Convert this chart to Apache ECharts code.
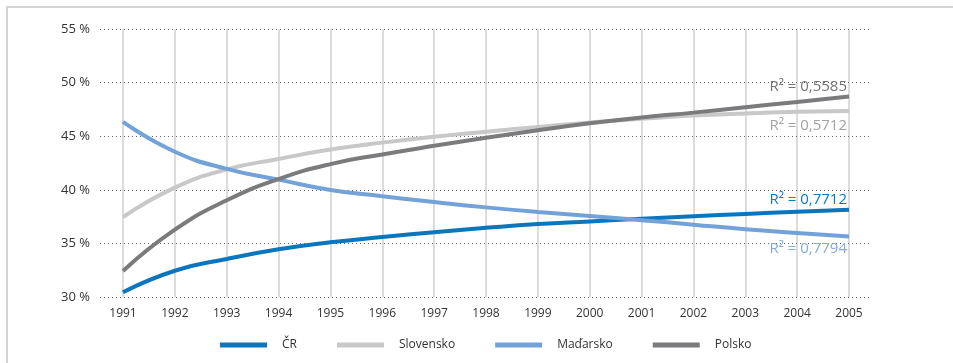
<!DOCTYPE html>
<html>
<head>
<meta charset="utf-8">
<script src="https://cdn.jsdelivr.net/npm/echarts@6/dist/echarts.min.js"></script>
<style>
html,body{margin:0;padding:0;background:#fff;}
#chart{width:953px;height:363px;}
</style>
</head>
<body>
<div id="chart"></div>
<script>
// ---- data ----
const years = ['1991','1992','1993','1994','1995','1996','1997','1998','1999','2000','2001','2002','2003','2004','2005'];
const yTicks = [30, 35, 40, 45, 50, 55];
const seriesNames = ['ČR', 'Slovensko', 'Maďarsko', 'Polsko'];
const cr        = [30.45, 32.45, 33.55, 34.45, 35.1, 35.6, 36.05, 36.45, 36.8, 37.05, 37.3, 37.53, 37.75, 37.96, 38.15];
const slovensko = [37.45, 40.2, 41.9, 42.88, 43.75, 44.4, 44.95, 45.42, 45.86, 46.28, 46.62, 46.92, 47.12, 47.27, 47.36];
const madarsko  = [46.33, 43.55, 41.95, 40.95, 39.98, 39.4, 38.86, 38.36, 37.93, 37.56, 37.17, 36.75, 36.33, 35.98, 35.65];
const polsko    = [32.43, 36.28, 39.02, 41.0, 42.4, 43.3, 44.1, 44.85, 45.55, 46.2, 46.75, 47.2, 47.7, 48.2, 48.7];
const r2Labels  = ['R² = 0,7712', 'R² = 0,5712', 'R² = 0,7794', 'R² = 0,5585'];

const lineColors  = ['#0a76bd', '#c8c8c8', '#72a2d8', '#7b7b7e'];
const labelColors = ['#0a7cc4', '#a3a3a3', '#80abdc', '#737376'];
const labelDy     = [-10, 15, 12, -9.5];
const allData = [cr, slovensko, madarsko, polsko];

const chart = echarts.init(document.getElementById('chart'), null, {renderer: 'canvas'});
const font = '"Open Sans", sans-serif';

const series = seriesNames.map((name, i) => ({
  name: name,
  type: 'line',
  xAxisIndex: 0,
  yAxisIndex: 0,
  data: allData[i],
  smooth: 0.5,
  showSymbol: false,
  symbol: 'none',
  z: 5,
  lineStyle: {color: lineColors[i], width: 4},
  itemStyle: {color: lineColors[i]},
  emphasis: {disabled: true},
  endLabel: {
    show: true,
    formatter: r2Labels[i],
    color: labelColors[i],
    fontFamily: font,
    fontSize: 15,
    align: 'right',
    verticalAlign: 'middle',
    distance: 0,
    offset: [-2, labelDy[i]]
  }
}));

chart.setOption({
  animation: false,
  backgroundColor: '#fff',
  graphic: [{
    type: 'rect',
    shape: {x: 7, y: 7, width: 1000, height: 400},
    style: {fill: 'none', stroke: '#d4d4d4', lineWidth: 2},
    z: -10
  }],
  grid: [
    {left: 123, right: 104, top: 29, bottom: 66},
    {left: 100, right: 84, top: 29, bottom: 66}
  ],
  xAxis: [
    {
      gridIndex: 0,
      type: 'category',
      data: years,
      boundaryGap: false,
      axisLine: {show: false},
      axisTick: {show: false},
      axisLabel: {color: '#333', fontFamily: font, fontSize: 12, margin: 11},
      splitLine: {show: true, lineStyle: {color: '#dcdcdc', width: 2}}
    },
    {
      gridIndex: 1,
      type: 'value',
      min: 0, max: 1,
      show: false
    }
  ],
  yAxis: [
    {
      gridIndex: 0,
      type: 'value',
      min: yTicks[0], max: yTicks[yTicks.length - 1], interval: 5,
      show: false,
      splitLine: {show: false}
    },
    {
      gridIndex: 1,
      type: 'value',
      min: yTicks[0], max: yTicks[yTicks.length - 1], interval: 5,
      axisLine: {show: false},
      axisTick: {show: false},
      axisLabel: {color: '#333', fontFamily: font, fontSize: 13, margin: 10, formatter: v => v + ' %'},
      splitLine: {show: true, lineStyle: {color: '#666', width: 1, type: [1, 3]}},
      z: 3
    }
  ],
  legend: {
    left: 215,
    top: 334,
    icon: 'rect',
    itemWidth: 47,
    itemHeight: 5,
    itemGap: 40,
    data: seriesNames,
    textStyle: {color: '#333', fontFamily: font, fontSize: 12, padding: [0, 0, 0, 10]}
  },
  series: series
});
</script>
</body>
</html>
